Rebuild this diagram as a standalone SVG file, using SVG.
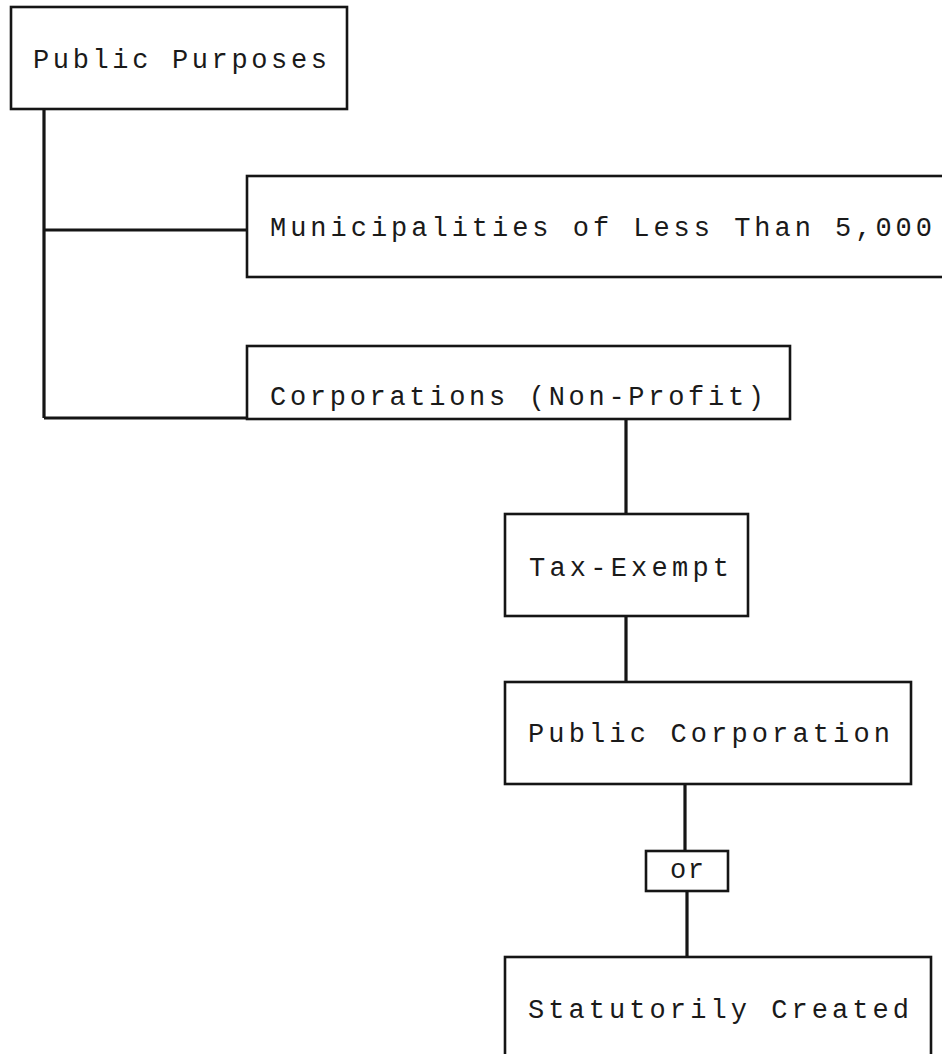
<svg xmlns="http://www.w3.org/2000/svg" width="942" height="1054" viewBox="0 0 942 1054">
<style>
.box{fill:#fff;stroke:#151515;stroke-width:2.6}
.lbl{font-family:"Liberation Mono","DejaVu Sans Mono",monospace;font-size:27px;fill:#1a1a1a}
.con{fill:none;stroke:#151515;stroke-width:3.2}
</style>
<rect width="942" height="1054" fill="#fff"/>
<g id="connectors">
<path class="con" d="M44 109 V418 M44 230 H247 M44 418 H247"/>
<path class="con" d="M626 419 V514 M626 616 V682 M685 784 V851 M687 891 V957"/>
</g>
<g id="n-public-purposes">
<rect class="box" x="11" y="7" width="336" height="102"/>
<text class="lbl" x="33" y="68" textLength="294" lengthAdjust="spacing">Public Purposes</text>
</g>
<g id="n-municipalities">
<rect class="box" x="247" y="176" width="710" height="101"/>
<text class="lbl" x="270" y="236" textLength="662" lengthAdjust="spacing">Municipalities of Less Than 5,000</text>
</g>
<g id="n-corporations">
<rect class="box" x="247" y="346" width="543" height="73"/>
<text class="lbl" x="270" y="405" textLength="494" lengthAdjust="spacing">Corporations (Non-Profit)</text>
</g>
<g id="n-tax-exempt">
<rect class="box" x="505" y="514" width="243" height="102"/>
<text class="lbl" x="529" y="576" textLength="200" lengthAdjust="spacing">Tax-Exempt</text>
</g>
<g id="n-public-corporation">
<rect class="box" x="505" y="682" width="406" height="102"/>
<text class="lbl" x="528" y="742" textLength="362" lengthAdjust="spacing">Public Corporation</text>
</g>
<g id="n-or">
<rect class="box" x="646" y="851" width="82" height="40"/>
<text class="lbl" x="670" y="878" textLength="34" lengthAdjust="spacing">or</text>
</g>
<g id="n-statutorily">
<rect class="box" x="505" y="957" width="426" height="104"/>
<text class="lbl" x="528" y="1018" textLength="381" lengthAdjust="spacing">Statutorily Created</text>
</g>
</svg>
